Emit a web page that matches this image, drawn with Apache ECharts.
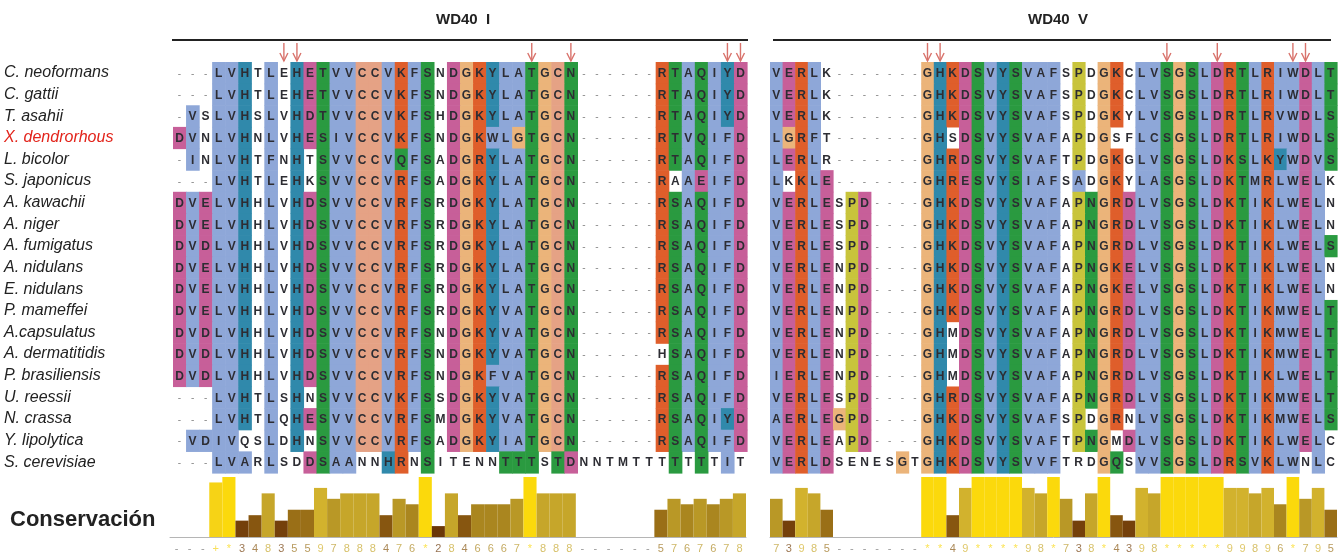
<!DOCTYPE html>
<html>
<head>
<meta charset="utf-8">
<script src="https://cdn.jsdelivr.net/npm/echarts@6/dist/echarts.min.js"></script>
<style>
    html, body { margin: 0; padding: 0; background: #fff; }
    #chart { width: 1344px; height: 556px; }
</style>
</head>
<body>
<div id="chart"></div>
<script>
var species = ['C. neoformans', 'C. gattii', 'T. asahii', 'X. dendrorhous', 'L. bicolor', 'S. japonicus',
    'A. kawachii', 'A. niger', 'A. fumigatus', 'A. nidulans', 'E. nidulans', 'P. mameffei', 'A.capsulatus',
    'A. dermatitidis', 'P. brasiliensis', 'U. reessii', 'N. crassa', 'Y. lipolytica', 'S. cerevisiae'];

// WD40 I
var seqLeft = [
    '---LVHTLEHETVVCCVKFSNDGKYLATGCN------RTAQIYD',
    '---LVHTLEHETVVCCVKFSNDGKYLATGCN------RTAQIYD',
    '-VSLVHSLVHDTVVCCVKFSHDGKYLATGCN------RTAQIYD',
    'DVNLVHNLVHESIVCCVKFSNDGKWLGTGCN------RTVQIFD',
    '-INLVHTFNHTSVVCCVQFSADGRYLATGCN------RTAQIFD',
    '---LVHTLEHKSVVCCVRFSADGKYLATGCN------RAAEIFD',
    'DVELVHHLVHDSVVCCVRFSRDGKYLATGCN------RSAQIFD',
    'DVELVHHLVHDSVVCCVRFSRDGKYLATGCN------RSAQIFD',
    'DVDLVHHLVHDSVVCCVRFSRDGKYLATGCN------RSAQIFD',
    'DVELVHHLVHDSVVCCVRFSRDGKYLATGCN------RSAQIFD',
    'DVELVHHLVHDSVVCCVRFSRDGKYLATGCN------RSAQIFD',
    'DVELVHHLVHDSVVCCVRFSRDGKYVATGCN------RSAQIFD',
    'DVDLVHHLVHDSVVCCVRFSNDGKYVATGCN------RSAQIFD',
    'DVDLVHHLVHDSVVCCVRFSNDGKYVATGCN------HSAQIFD',
    'DVDLVHHLVHDSVVCCVRFSNDGKFVATGCN------RSAQIFD',
    '---LVHTLSHNSVVCCVKFSSDGKYVATGCN------RSAQIFD',
    '---LVHTLQHESVVCCVRFSMDGKYVATGCN------RSAQIYD',
    '-VDIVQSLDHNSVVCCVRFSADGKYIATGCN------RSAQIFD',
    '---LVARLSDDSAANNHRNSITENNTTTSTDNNTMTTTTTTTIT'
];

// WD40 V
var seqRight = [
    'VERLK-------GHKDSVYSVAFSPDGKCLVSGSLDRTLRIWDLT',
    'VERLK-------GHKDSVYSVAFSPDGKCLVSGSLDRTLRIWDLT',
    'VERLK-------GHKDSVYSVAFSPDGKYLVSGSLDRTLRVWDLS',
    'LGRFT-------GHSDSVYSVAFAPDGSFLCSGSLDRTLRIWDLS',
    'LERLR-------GHRDSVYSVAFTPDGKGLVSGSLDKSLKYWDVS',
    'LKKLE-------GHRESVYSIAFSADGKYLASGSLDKTMRLWELK',
    'VERLESPD----GHKDSVYSVAFAPNGRDLVSGSLDKTIKLWELN',
    'VERLESPD----GHKDSVYSVAFAPNGRDLVSGSLDKTIKLWELN',
    'VERLESPD----GHKDSVYSVAFAPNGRDLVSGSLDKTIKLWELS',
    'VERLENPD----GHKDSVYSVAFAPNGKELVSGSLDKTIKLWELN',
    'VERLENPD----GHKDSVYSVAFAPNGKELVSGSLDKTIKLWELN',
    'VERLENPD----GHKDSVYSVAFAPNGRDLVSGSLDKTIKMWELT',
    'VERLENPD----GHMDSVYSVAFAPNGRDLVSGSLDKTIKMWELT',
    'VERLENPD----GHMDSVYSVAFAPNGRDLVSGSLDKTIKMWELT',
    'IERLENPD----GHMDSVYSVAFAPNGRDLVSGSLDKTIKLWELT',
    'VERLESPD----GHRDSVYSVAFAPNGRDLVSGSLDKTIKMWELT',
    'AERLEGPD----GHKDSVYSVAFSPDGRNLVSGSLDKTIKMWELS',
    'VERLEAPD----GHKDSVYSVAFTPNGMDLVSGSLDKTIKLWELC',
    'VERLDSENESGTGHKDSVYSVVFTRDGQSVVSGSLDRSVKLWNLC'
];

// residues that get shaded in each column
var shadeLeft = ['D', 'VI', 'ED', 'LI', 'V', 'HA', '', 'LF', '', 'H', 'ED', 'TS', 'VIA', 'VA', 'C', 'C',
    'VH', 'KRQ', 'F', 'S', '', 'D', 'G', 'KR', 'YWF', 'LVIT', 'AGT', 'T', 'G', 'CT', 'ND',
    '', '', '', '', '', '', 'R', 'TS', 'AV', 'QET', 'I', 'YFI', 'D'];
var shadeRight = ['VLIA', 'EG', 'RK', 'LF', 'ED', 'G', 'P', 'D', '', '', 'G', '', 'G', 'H', 'KR', 'DE',
    'S', 'V', 'Y', 'S', 'VI', 'AV', 'F', '', 'P', 'N', 'G', 'KRQ', 'DE', 'LV', 'VCA', 'S', 'G', 'S',
    'L', 'D', 'RK', 'TS', 'LMIV', 'RK', 'IVYLM', 'W', 'DE', 'LV', 'TS'];
var fixLeft = {'17,2': 'blue'};
var fixRight = {'3,30': 'blue', '5,24': 'blue'};

var arrowsLeft = [8, 9, 27, 30, 42, 43];
var arrowsRight = [12, 13, 31, 35, 41, 42];

var consLeft = [null, null, null, 10, 11, 3, 4, 8, 3, 5, 5, 9, 7, 8, 8, 8, 4, 7, 6, 11, 2, 8, 4, 6, 6, 6, 7, 11,
    8, 8, 8, null, null, null, null, null, null, 5, 7, 6, 7, 6, 7, 8];
var consLabelsLeft = ['-', '-', '-', '+', '*', '3', '4', '8', '3', '5', '5', '9', '7', '8', '8', '8', '4', '7', '6',
    '*', '2', '8', '4', '6', '6', '6', '7', '*', '8', '8', '8', '-', '-', '-', '-', '-', '-', '5', '7', '6', '7', '6', '7', '8'];
var consRight = [7, 3, 9, 8, 5, null, null, null, null, null, null, null, 11, 11, 4, 9, 11, 11, 11, 11, 9, 8, 11,
    7, 3, 8, 11, 4, 3, 9, 8, 11, 11, 11, 11, 11, 9, 9, 8, 9, 6, 11, 7, 9, 5];
var consLabelsRight = ['7', '3', '9', '8', '5', '-', '-', '-', '-', '-', '-', '-', '*', '*', '4', '9', '*', '*', '*', '*',
    '9', '8', '*', '7', '3', '8', '*', '4', '3', '9', '8', '*', '*', '*', '*', '*', '9', '9', '8', '9', '6', '*', '7', '9', '5'];

var residueColors = {
    blue: '#8ea7d8', teal: '#3089ab', red: '#df5e2b', magenta: '#c75f99',
    green: '#2a9a40', salmon: '#e5a285', orange: '#ebb47a', yellow: '#c8c43c'
};
var residueClass = {
    A: 'blue', I: 'blue', L: 'blue', M: 'blue', F: 'blue', W: 'blue', V: 'blue',
    C: 'salmon', K: 'red', R: 'red', D: 'magenta', E: 'magenta',
    N: 'green', Q: 'green', S: 'green', T: 'green', G: 'orange', P: 'yellow', H: 'teal', Y: 'teal'
};
// conservation colours, dark brown -> gold -> yellow
var consPalette = ['#4e2404', '#5a2c06', '#6a3708', '#74400b', '#875610', '#9a6f17', '#aa861f', '#b99826',
    '#c6a62a', '#d2b22d', '#f6d316', '#fbd90c'];
var FONT = '"Liberation Sans", Arial, sans-serif';

function mix(hex, t) {
    var n = parseInt(hex.slice(1), 16);
    var r = (n >> 16) & 255, g = (n >> 8) & 255, b = n & 255;
    r = Math.round(r + (255 - r) * t);
    g = Math.round(g + (255 - g) * t);
    b = Math.round(b + (255 - b) * t);
    return 'rgb(' + r + ',' + g + ',' + b + ')';
}

function buildCells(seqs, shade, fixes) {
    var cells = [];
    seqs.forEach(function (seq, r) {
        for (var c = 0; c < seq.length; c++) {
            var ch = seq.charAt(c);
            var fill = null;
            if (fixes[r + ',' + c]) {
                fill = residueColors[fixes[r + ',' + c]];
            } else if (ch !== '-' && shade[c].indexOf(ch) >= 0) {
                fill = residueColors[residueClass[ch]];
            }
            cells.push({value: [c, r], res: ch, fill: fill});
        }
    });
    return cells;
}

var cellsLeft = buildCells(seqLeft, shadeLeft, fixLeft);
var cellsRight = buildCells(seqRight, shadeRight, fixRight);

function cellRenderer(cells) {
    return function (params, api) {
        var cell = cells[params.dataIndex];
        var p = api.coord([api.value(0), api.value(1)]);
        var s = api.size([1, 1]);
        var kids = [];
        if (cell.fill) {
            kids.push({
                type: 'rect',
                shape: {x: p[0] - s[0] / 2, y: p[1] - s[1] / 2, width: s[0] + 0.6, height: s[1] + 0.6},
                style: {fill: cell.fill}
            });
        }
        var gap = cell.res === '-';
        kids.push({
            type: 'text',
            style: {
                x: p[0], y: p[1] + 1,
                text: cell.res,
                align: 'center', verticalAlign: 'middle',
                fill: gap ? '#8a8a8a' : '#2d2d33',
                font: (gap ? 'normal 10px ' : 'bold 12px ') + FONT
            }
        });
        return {type: 'group', children: kids};
    };
}

function arrowRenderer(params, api) {
    var p = api.coord([api.value(0), 0]);
    var s = api.size([1, 1]);
    var tip = p[1] - s[1] / 2 - 1;
    var st = {stroke: '#d9736c', lineWidth: 1.4, fill: null};
    return {
        type: 'group',
        children: [
            {type: 'line', shape: {x1: p[0], y1: tip - 18, x2: p[0], y2: tip}, style: st},
            {type: 'polyline', shape: {points: [[p[0] - 4, tip - 8], [p[0], tip], [p[0] + 4, tip - 8]]}, style: st}
        ]
    };
}

function indexList(n) {
    var a = [];
    for (var i = 0; i < n; i++) a.push(String(i));
    return a;
}

function consAxis(grid, labels, values) {
    return {
        type: 'category',
        gridIndex: grid,
        data: indexList(labels.length),
        axisTick: {show: false},
        axisLine: {lineStyle: {color: '#b5b5b5', width: 1}},
        axisLabel: {
            interval: 0,
            margin: 6,
            fontSize: 11,
            fontFamily: FONT,
            formatter: function (v, i) { return labels[i]; },
            color: function (v, i) {
                var val = values[i];
                return val == null ? '#9a9a9a' : mix(consPalette[val], 0.3);
            }
        }
    };
}

var myChart = echarts.init(document.getElementById('chart'));

var option = {
    animation: false,
    backgroundColor: '#ffffff',
    grid: [
        {left: 173, top: 62, width: 574, height: 411},
        {left: 770, top: 62, width: 567, height: 411},
        {left: 170, top: 477, width: 576, height: 60},
        {left: 770, top: 477, width: 567, height: 60}
    ],
    xAxis: [
        {type: 'category', gridIndex: 0, data: indexList(44), show: false},
        {type: 'category', gridIndex: 1, data: indexList(45), show: false},
        consAxis(2, consLabelsLeft, consLeft),
        consAxis(3, consLabelsRight, consRight)
    ],
    yAxis: [
        {
            type: 'category',
            gridIndex: 0,
            inverse: true,
            data: species,
            axisLine: {show: false},
            axisTick: {show: false},
            axisLabel: {
                align: 'left',
                margin: 169,
                fontSize: 16,
                fontStyle: 'italic',
                fontFamily: FONT,
                color: function (v, i) { return i === 3 ? '#e2231a' : '#222'; }
            }
        },
        {type: 'category', gridIndex: 1, inverse: true, data: species, show: false},
        {type: 'value', gridIndex: 2, min: 0, max: 11, show: false},
        {type: 'value', gridIndex: 3, min: 0, max: 11, show: false}
    ],
    graphic: [
        {type: 'line', shape: {x1: 172, y1: 40, x2: 748, y2: 40}, style: {stroke: '#222', lineWidth: 2}},
        {type: 'line', shape: {x1: 773, y1: 40, x2: 1331, y2: 40}, style: {stroke: '#222', lineWidth: 2}},
        {type: 'text', left: 436, top: 12, style: {text: 'WD40  I', font: 'bold 15px ' + FONT, fill: '#222'}},
        {type: 'text', left: 1028, top: 12, style: {text: 'WD40  V', font: 'bold 15px ' + FONT, fill: '#222'}},
        {type: 'text', left: 10, top: 509, style: {text: 'Conservación', font: 'bold 22px ' + FONT, fill: '#222'}}
    ],
    series: [
        {
            type: 'custom',
            xAxisIndex: 0, yAxisIndex: 0,
            data: cellsLeft.map(function (c) { return c.value; }),
            renderItem: cellRenderer(cellsLeft)
        },
        {
            type: 'custom',
            xAxisIndex: 1, yAxisIndex: 1,
            data: cellsRight.map(function (c) { return c.value; }),
            renderItem: cellRenderer(cellsRight)
        },
        {
            type: 'custom',
            xAxisIndex: 0, yAxisIndex: 0,
            data: arrowsLeft.map(function (c) { return [c, 0]; }),
            renderItem: arrowRenderer
        },
        {
            type: 'custom',
            xAxisIndex: 1, yAxisIndex: 1,
            data: arrowsRight.map(function (c) { return [c, 0]; }),
            renderItem: arrowRenderer
        },
        {
            type: 'bar',
            xAxisIndex: 2, yAxisIndex: 2,
            barCategoryGap: '0%',
            data: consLeft.map(function (v) { return v == null ? '-' : v; }),
            itemStyle: {color: function (p) { return consPalette[p.value]; }}
        },
        {
            type: 'bar',
            xAxisIndex: 3, yAxisIndex: 3,
            barCategoryGap: '0%',
            data: consRight.map(function (v) { return v == null ? '-' : v; }),
            itemStyle: {color: function (p) { return consPalette[p.value]; }}
        }
    ]
};

myChart.setOption(option);
</script>
</body>
</html>
